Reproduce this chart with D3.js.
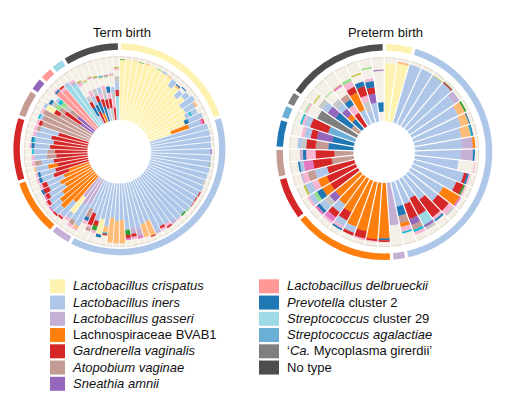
<!DOCTYPE html>
<html><head><meta charset="utf-8">
<script src="https://cdn.jsdelivr.net/npm/d3@7"></script>
<style>body{margin:0;background:#fff}svg{display:block;font-family:"Liberation Sans",Arial,Helvetica,sans-serif}</style>
</head><body><svg id="chart" width="506" height="400"></svg>
<script>
// ---- taxa & colours ----
const taxonCodes  = ["Lc","Li","Lg","BV","Gv","Av","Sa","Ld","Pv","S29","Sag","Mg","NT","pe","gr","lg","mg","lp","lgr","cy","ol","kh","ot"];
const taxonColors = ["#fdf2b0","#aec7e8","#c5b0d5","#ff7f0e","#d62728","#c49c94","#9467bd","#ff9896","#1f77b4","#9edae5","#6baed6","#7f7f7f","#4d4d4d","#ffbb78","#2ca02c","#98df8a","#e377c2","#f7b6d2","#c7c7c7","#17becf","#bcbd22","#dbdb8d","#f5f0e7"];

// ---- legend ----
const legendLeftCodes = ["Lc","Li","Lg","BV","Gv","Av","Sa"];
const legendLeftLabels = [
  [["Lactobacillus crispatus",1]],
  [["Lactobacillus iners",1]],
  [["Lactobacillus gasseri",1]],
  [["Lachnospiraceae BVAB1",0]],
  [["Gardnerella vaginalis",1]],
  [["Atopobium vaginae",1]],
  [["Sneathia amnii",1]]
];
const legendRightCodes = ["Ld","Pv","S29","Sag","Mg","NT"];
const legendRightLabels = [
  [["Lactobacillus delbrueckii",1]],
  [["Prevotella",1],[" cluster 2",0]],
  [["Streptococcus",1],[" cluster 29",0]],
  [["Streptococcus agalactiae",1]],
  [["\u2018",0],["Ca.",1],[" Mycoplasma girerdii\u2019",0]],
  [["No type",0]]
];

// ---- community types (outer ring), in sample order ----
const termTypes = ["Lc","Li","Lg","BV","Gv","Av","Sa","Ld","S29","NT"];
const termTypeCounts = [18,34,3,8,9,4,2,2,2,8];
const pretermTypes = ["Lc","Li","Lg","BV","Gv","Av","Pv","Sag","Mg","NT"];
const pretermTypeCounts = [2,19,1,7,3,2,2,1,1,7];

// ---- per-sample relative abundances (inner -> outer); remainder = other ----
const termSamples = [
 [["Lc",.96],["gr",.01]],
 [["Lc",.97]],
 [["Lc",.96],["pe",.01]],
 [["Lc",.95],["gr",.01]],
 [["Lc",.95],["pe",.02]],
 [["Lc",.96]],
 [["Lc",.94],["lg",.02]],
 [["Lc",.93],["Li",.03]],
 [["Lc",.92],["pe",.02]],
 [["Lc",.80],["Li",.13]],
 [["Lc",.86],["pe",.03],["Pv",.02]],
 [["Lc",.74],["Li",.12],["ot",.06],["Pv",.02]],
 [["Lc",.82],["Li",.10]],
 [["Lc",.70],["Li",.26]],
 [["Lc",.72],["Li",.18],["pe",.04]],
 [["Lc",.68],["Li",.08],["cy",.03],["Li",.10]],
 [["Lc",.63],["Pv",.07],["Li",.24]],
 [["Lc",.37],["BV",.30],["Li",.20],["mg",.04],["Gv",.02]],
 [["Li",.96]],
 [["Li",.97]],
 [["Li",.97]],
 [["Li",.96]],
 [["Li",.95],["Sa",.02]],
 [["Li",.96]],
 [["Li",.95],["gr",.01]],
 [["Li",.96]],
 [["Li",.95]],
 [["Li",.94],["pe",.01]],
 [["Li",.95]],
 [["Li",.93],["Gv",.02]],
 [["Li",.92],["Gv",.02]],
 [["Li",.93],["Gv",.01]],
 [["Li",.92],["lg",.02]],
 [["Li",.90],["gr",.03]],
 [["Li",.91],["lp",.02]],
 [["Li",.88],["Lg",.05]],
 [["Li",.86],["lp",.05],["Gv",.03]],
 [["Li",.85],["Gv",.04],["lp",.04]],
 [["Li",.90],["Lg",.03]],
 [["Li",.68],["pe",.25],["Gv",.02]],
 [["Li",.70],["pe",.22]],
 [["Li",.75],["Lg",.12],["mg",.05]],
 [["Li",.72],["Lg",.10],["Gv",.05],["lp",.04]],
 [["Li",.75],["gr",.08],["Gv",.05],["mg",.03]],
 [["Li",.58],["pe",.38]],
 [["Li",.60],["pe",.36]],
 [["Li",.55],["pe",.40]],
 [["Li",.70],["pe",.10],["cy",.02],["Gv",.03]],
 [["Li",.60],["Lc",.25],["Pv",.05]],
 [["Li",.65],["Gv",.08],["gr",.08],["lp",.05]],
 [["Li",.55],["Gv",.20],["lp",.05],["Av",.05]],
 [["Li",.50],["Av",.15],["Pv",.06],["lp",.06]],
 [["Lg",.45],["Li",.40],["pe",.05],["lp",.03]],
 [["Lg",.50],["Li",.30],["Av",.08],["lp",.05]],
 [["Lg",.40],["Lc",.32],["Li",.10],["lp",.05]],
 [["BV",.55],["Li",.30],["lp",.03],["Gv",.03]],
 [["BV",.75],["Li",.15],["Gv",.03]],
 [["BV",.70],["Li",.20],["mg",.03]],
 [["BV",.60],["Li",.25],["Gv",.05],["lp",.03]],
 [["BV",.50],["Li",.30],["Gv",.06],["mg",.03]],
 [["BV",.55],["Li",.20],["Gv",.10],["Pv",.04]],
 [["BV",.45],["Li",.30],["Gv",.08],["lp",.05]],
 [["BV",.35],["Gv",.25],["Li",.20],["Pv",.05],["lp",.04]],
 [["Gv",.55],["Li",.25],["Pv",.04],["lp",.04]],
 [["Gv",.50],["BV",.15],["Li",.20],["pe",.03]],
 [["Gv",.55],["Li",.20],["Av",.10],["lp",.05]],
 [["Gv",.50],["Av",.15],["Li",.20],["lp",.05]],
 [["Gv",.52],["Av",.12],["Li",.22],["cy",.03]],
 [["Gv",.60],["Li",.25],["Pv",.05],["lp",.03]],
 [["Gv",.55],["Li",.30],["cy",.03],["Pv",.03]],
 [["Gv",.60],["Li",.25],["lp",.05]],
 [["Gv",.50],["Li",.30],["Av",.05],["lp",.05]],
 [["Av",.80],["Gv",.05],["lp",.04]],
 [["Av",.82],["Li",.05],["cy",.03]],
 [["Av",.85],["lp",.05]],
 [["Av",.60],["Gv",.10],["Lc",.15],["Li",.05]],
 [["Sa",.25],["Gv",.30],["Av",.10],["lg",.08],["lgr",.08],["Pv",.05]],
 [["Sa",.35],["Av",.15],["lgr",.10],["lg",.08],["cy",.06],["Li",.05]],
 [["Ld",.85],["Pv",.03],["lp",.03]],
 [["Ld",.80],["lp",.05],["Gv",.03]],
 [["S29",.82],["Li",.05]],
 [["S29",.78],["Lg",.04],["lp",.04]],
 [["Li",.15],["Pv",.15],["Gv",.10],["lgr",.10],["ot",.20],["lp",.05],["Lg",.02],["ol",.02]],
 [["Gv",.20],["Pv",.12],["Li",.15],["lp",.10],["ot",.15],["lg",.02],["pe",.02]],
 [["BV",.15],["Pv",.20],["Gv",.10],["lgr",.12],["ot",.18],["mg",.02],["kh",.02]],
 [["Pv",.25],["Gv",.12],["lp",.10],["Li",.10],["ot",.15],["Lg",.02],["ol",.02]],
 [["Li",.20],["Gv",.15],["lgr",.15],["lp",.08],["ot",.12],["pe",.02],["cy",.02]],
 [["lgr",.20],["Gv",.15],["lp",.10],["Pv",.10],["ot",.15],["lg",.02],["mg",.02]],
 [["Gv",.20],["lp",.15],["lgr",.10],["Li",.08],["ot",.18],["pe",.02],["Lg",.02]],
 [["S29",.38],["Gv",.10],["Li",.12],["lgr",.10],["ot",.10],["lp",.03],["ol",.02]]
];

const pretermSamples = [
 [["Lc",.92]],
 [["Lc",.93],["pe",.03]],
 [["Li",.96]],
 [["Li",.96]],
 [["Li",.95],["ol",.01]],
 [["Li",.95],["Gv",.02],["gr",.01]],
 [["Li",.86],["Lg",.10]],
 [["Li",.82],["pe",.12],["gr",.03]],
 [["Li",.80],["pe",.13],["Pv",.02]],
 [["Li",.76],["pe",.15],["cy",.02],["Pv",.02]],
 [["Li",.75],["Lg",.17],["BV",.04]],
 [["Li",.72],["Lg",.20],["Pv",.03]],
 [["Li",.70],["ot",.25],["lp",.02]],
 [["Li",.82],["Gv",.05],["Pv",.03],["lp",.03]],
 [["Li",.75],["Gv",.12],["gr",.03],["lp",.03]],
 [["Li",.60],["BV",.30],["mg",.03]],
 [["Li",.60],["Gv",.22],["lp",.08],["lgr",.03]],
 [["Li",.45],["Gv",.35],["lp",.05],["Pv",.03]],
 [["Li",.35],["Gv",.30],["S29",.18],["Sa",.04],["lgr",.05]],
 [["Li",.40],["Gv",.25],["Sa",.10],["Av",.08],["cy",.04],["lp",.05]],
 [["Li",.40],["Pv",.15],["Av",.12],["BV",.06],["lp",.08],["cy",.03]],
 [["Lg",.68],["ot",.30]],
 [["BV",.88],["Pv",.03],["Gv",.03]],
 [["BV",.90],["Gv",.03],["lp",.02]],
 [["BV",.80],["Gv",.12],["lp",.03]],
 [["BV",.78],["Li",.10],["Gv",.05]],
 [["BV",.60],["Gv",.15],["Li",.10],["lp",.05],["Pv",.03]],
 [["BV",.55],["Li",.15],["Gv",.10],["mg",.08],["lp",.04]],
 [["BV",.50],["Sa",.12],["lgr",.10],["Li",.10],["Pv",.05],["mg",.04]],
 [["Gv",.50],["BV",.15],["Pv",.10],["lg",.06],["Li",.08],["lp",.04]],
 [["Gv",.50],["BV",.15],["lp",.10],["Li",.12],["ol",.03]],
 [["Gv",.45],["Li",.20],["Av",.12],["lp",.08],["Lg",.03]],
 [["Av",.35],["Gv",.30],["mg",.15],["Li",.06],["Pv",.03]],
 [["Av",.30],["Gv",.30],["lp",.15],["Pv",.05],["Lg",.05]],
 [["Pv",.40],["Av",.20],["Gv",.15],["lgr",.08],["Li",.06]],
 [["Pv",.35],["Sa",.25],["Gv",.10],["Li",.10],["lp",.05]],
 [["Sag",.45],["Gv",.30],["Li",.10],["lp",.04],["cy",.03]],
 [["Mg",.70],["ot",.18],["lp",.03],["lg",.02]],
 [["Av",.15],["Pv",.30],["Sa",.15],["Li",.10],["lgr",.08],["ot",.08],["ol",.02]],
 [["Pv",.20],["BV",.10],["Sa",.12],["Li",.10],["lgr",.10],["ot",.15],["lg",.02]],
 [["Gv",.25],["lp",.15],["Pv",.10],["Av",.10],["ot",.15],["mg",.03],["kh",.02]],
 [["Li",.25],["BV",.30],["Gv",.10],["lp",.10],["lg",.05],["ot",.08]],
 [["Li",.20],["lgr",.15],["lp",.10],["Gv",.15],["Pv",.08],["ot",.12],["ol",.02]],
 [["Li",.30],["Sa",.15],["Gv",.10],["Pv",.10],["lp",.05],["ot",.15],["lg",.03]],
 [["ot",.15],["Pv",.15],["ot",.50],["Sa",.02]]
];

// ---- drawing ----
const color = d3.scaleOrdinal().domain(taxonCodes).range(taxonColors);
const svg = d3.select("#chart");

function drawPanel(samples, types, counts, cfg) {
  const n = samples.length;
  const angle = d3.scaleLinear().domain([0, n]).range([0, 2 * Math.PI]);
  const rad = d3.scaleLinear().domain([0, 1]).range([cfg.r0, cfg.r1]);
  const segs = [];
  samples.forEach((s, i) => {
    let acc = 0;
    s.forEach(([t, v]) => { segs.push({i, t, y0: acc, y1: acc + v}); acc += v; });
    if (acc < 1) segs.push({i, t: "ot", y0: acc, y1: 1});
  });
  const g = svg.append("g").attr("transform", `translate(${cfg.cx},${cfg.cy})`);
  const arc = d3.arc()
    .innerRadius(d => rad(d.y0)).outerRadius(d => rad(Math.min(1, d.y1)))
    .startAngle(d => angle(d.i)).endAngle(d => angle(d.i + 1));
  g.selectAll("path.seg").data(segs).join("path")
    .attr("d", arc).attr("fill", d => color(d.t))
    .attr("stroke", d => color(d.t)).attr("stroke-width", 0.3);
  g.append("circle").attr("r", cfg.r1 + 0.5).attr("fill", "none")
    .attr("stroke", "#e4dccf").attr("stroke-width", 1.2);
  g.selectAll("line.sep").data(d3.range(n)).join("line")
    .attr("x1", i => Math.sin(angle(i)) * (cfg.r0 - 1))
    .attr("y1", i => -Math.cos(angle(i)) * (cfg.r0 - 1))
    .attr("x2", i => Math.sin(angle(i)) * (cfg.r1 + 1.5))
    .attr("y2", i => -Math.cos(angle(i)) * (cfg.r1 + 1.5))
    .attr("stroke", "#fff").attr("stroke-width", cfg.sep);
  // community type ring
  const groups = [];
  let start = 0;
  types.forEach((t, k) => { groups.push({t, s: start, e: start + counts[k]}); start += counts[k]; });
  const pad = 0.9 * Math.PI / 180;
  const ring = d3.arc().innerRadius(cfg.ring0).outerRadius(cfg.ring1)
    .startAngle(d => angle(d.s) + pad).endAngle(d => angle(d.e) - pad);
  svg.append("g").attr("transform", `translate(${cfg.rcx},${cfg.rcy})`)
    .selectAll("path").data(groups).join("path")
    .attr("d", ring).attr("fill", d => color(d.t));
  svg.append("text").attr("x", cfg.tx).attr("y", 36.5).attr("text-anchor", "middle")
    .attr("font-size", 13).attr("fill", "#111").text(cfg.title);
}

drawPanel(termSamples, termTypes, termTypeCounts,
  {cx: 119.3, cy: 151.7, r0: 32, r1: 94.5, rcx: 119.5, rcy: 149.3, ring0: 99.6, ring1: 106, sep: 0.8, title: "Term birth", tx: 122});
drawPanel(pretermSamples, pretermTypes, pretermTypeCounts,
  {cx: 384.2, cy: 152, r0: 31, r1: 94, rcx: 384.3, rcy: 152, ring0: 101.5, ring1: 108, sep: 1.2, title: "Preterm birth", tx: 385.5});

function drawLegend(codes, labels, x, w, tx) {
  const g = svg.append("g");
  codes.forEach((c, i) => {
    const top = 279.3 + i * 16.25;
    g.append("rect").attr("x", x).attr("y", top).attr("width", w).attr("height", 14).attr("fill", color(c));
    const t = g.append("text").attr("x", tx).attr("y", top + 11).attr("font-size", 13).attr("fill", "#111");
    labels[i].forEach(([s, it]) => t.append("tspan").attr("font-style", it ? "italic" : "normal").text(s));
  });
}
drawLegend(legendLeftCodes, legendLeftLabels, 50, 15, 73);
drawLegend(legendRightCodes, legendRightLabels, 259, 20, 287);
</script></body></html>
